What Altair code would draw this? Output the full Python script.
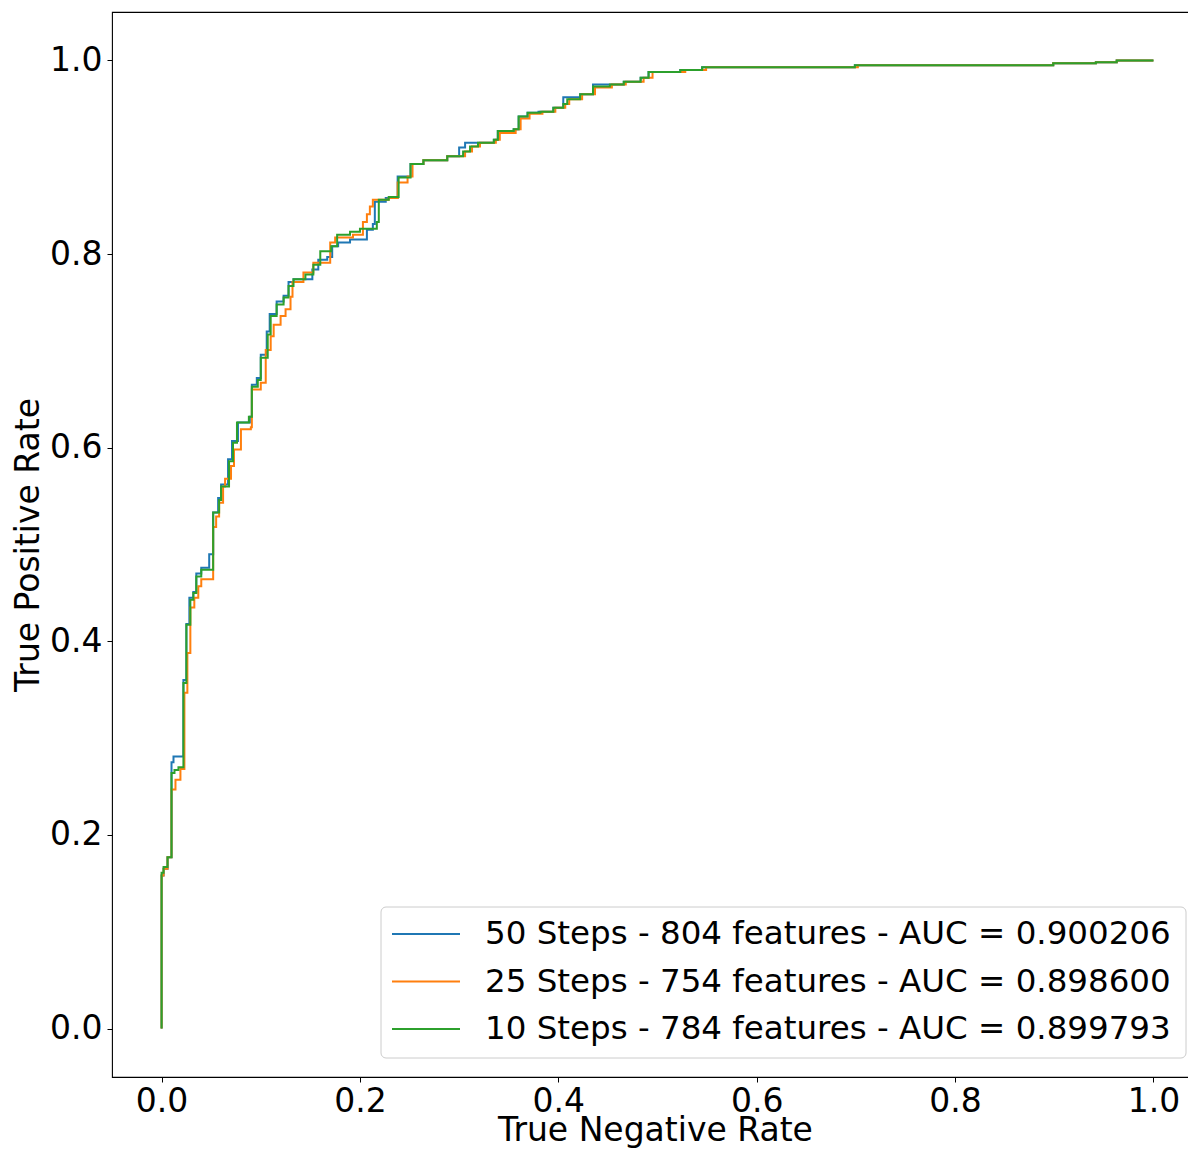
import altair as alt
import pandas as pd

labels = [
    "50 Steps - 804 features - AUC = 0.900206",
    "25 Steps - 754 features - AUC = 0.898600",
    "10 Steps - 784 features - AUC = 0.899793",
]
colors = ["#1f77b4", "#ff7f0e", "#2ca02c"]

blue_x = [0, 0, 0.002, 0.006, 0.010, 0.012, 0.022, 0.025, 0.028, 0.032, 0.035, 0.040, 0.048, 0.052, 0.057,
          0.060, 0.067, 0.071, 0.077, 0.089, 0.091, 0.096, 0.100, 0.106, 0.109, 0.116, 0.123, 0.128, 0.133,
          0.152, 0.158, 0.167, 0.172, 0.178, 0.190, 0.207, 0.213, 0.215, 0.226, 0.238, 0.251, 0.264, 0.288,
          0.300, 0.306, 0.319, 0.335, 0.339, 0.355, 0.360, 0.369, 0.380, 0.395, 0.405, 0.407, 0.422, 0.435,
          0.452, 0.466, 0.483, 0.491, 0.523, 0.545, 0.699, 0.899, 0.942, 0.963, 1.0]
blue_y = [0, 0.158, 0.165, 0.177, 0.275, 0.281, 0.360, 0.418, 0.445, 0.451, 0.470, 0.476, 0.490, 0.533, 0.548,
          0.562, 0.588, 0.607, 0.626, 0.632, 0.665, 0.672, 0.696, 0.720, 0.738, 0.751, 0.757, 0.771, 0.774,
          0.784, 0.794, 0.797, 0.808, 0.812, 0.815, 0.825, 0.831, 0.854, 0.858, 0.880, 0.893, 0.897, 0.901,
          0.910, 0.915, 0.915, 0.918, 0.927, 0.929, 0.942, 0.946, 0.947, 0.951, 0.962, 0.962, 0.965, 0.975,
          0.975, 0.978, 0.982, 0.988, 0.990, 0.993, 0.995, 0.997, 0.998, 1.0, 1.0]

orange_x = [0, 0, 0.002, 0.006, 0.010, 0.014, 0.019, 0.023, 0.026, 0.029, 0.033, 0.037, 0.040, 0.052, 0.055,
            0.058, 0.062, 0.064, 0.070, 0.073, 0.080, 0.090, 0.091, 0.100, 0.105, 0.110, 0.113, 0.120, 0.125,
            0.130, 0.132, 0.143, 0.153, 0.170, 0.175, 0.193, 0.203, 0.207, 0.210, 0.213, 0.229, 0.238, 0.248,
            0.253, 0.264, 0.288, 0.306, 0.313, 0.321, 0.337, 0.341, 0.357, 0.362, 0.371, 0.384, 0.397, 0.407,
            0.411, 0.424, 0.437, 0.454, 0.468, 0.486, 0.495, 0.528, 0.549, 0.702, 0.899, 0.942, 0.963, 1.0]
orange_y = [0, 0.158, 0.165, 0.177, 0.247, 0.257, 0.268, 0.347, 0.388, 0.435, 0.445, 0.457, 0.464, 0.518, 0.529,
            0.543, 0.560, 0.568, 0.581, 0.598, 0.619, 0.621, 0.660, 0.667, 0.701, 0.715, 0.727, 0.736, 0.743,
            0.756, 0.771, 0.781, 0.791, 0.812, 0.817, 0.820, 0.833, 0.841, 0.849, 0.856, 0.858, 0.874, 0.880,
            0.893, 0.897, 0.901, 0.906, 0.911, 0.915, 0.918, 0.925, 0.929, 0.940, 0.945, 0.947, 0.951, 0.955,
            0.960, 0.965, 0.972, 0.975, 0.978, 0.982, 0.988, 0.990, 0.993, 0.995, 0.997, 0.998, 1.0, 1.0]

green_x = [0, 0, 0.002, 0.006, 0.010, 0.013, 0.017, 0.022, 0.025, 0.029, 0.032, 0.035, 0.040, 0.052, 0.058,
           0.060, 0.068, 0.072, 0.076, 0.088, 0.091, 0.097, 0.100, 0.107, 0.110, 0.116, 0.123, 0.128, 0.133,
           0.145, 0.153, 0.160, 0.171, 0.177, 0.190, 0.200, 0.217, 0.219, 0.229, 0.239, 0.251, 0.264, 0.288,
           0.304, 0.311, 0.319, 0.335, 0.339, 0.355, 0.360, 0.369, 0.382, 0.395, 0.405, 0.409, 0.422, 0.435,
           0.452, 0.466, 0.483, 0.491, 0.523, 0.545, 0.699, 0.899, 0.942, 0.963, 1.0]
green_y = [0, 0.161, 0.167, 0.177, 0.264, 0.267, 0.270, 0.357, 0.417, 0.443, 0.450, 0.467, 0.474, 0.533, 0.546,
           0.560, 0.586, 0.605, 0.626, 0.632, 0.663, 0.670, 0.693, 0.717, 0.736, 0.748, 0.755, 0.767, 0.774,
           0.779, 0.789, 0.803, 0.808, 0.820, 0.823, 0.826, 0.833, 0.856, 0.859, 0.879, 0.893, 0.897, 0.901,
           0.906, 0.911, 0.915, 0.918, 0.927, 0.929, 0.942, 0.946, 0.947, 0.951, 0.955, 0.960, 0.965, 0.973,
           0.975, 0.978, 0.982, 0.988, 0.990, 0.993, 0.995, 0.997, 0.998, 1.0, 1.0]

x_ticks = [0.0, 0.2, 0.4, 0.6, 0.8, 1.0]
y_ticks = [0.0, 0.2, 0.4, 0.6, 0.8, 1.0]

FONT = "DejaVu Sans"
FS = 33
LEG_FS = 32.5
W, H = 1091, 1065

series = [(labels[0], blue_x, blue_y), (labels[1], orange_x, orange_y), (labels[2], green_x, green_y)]
rows = []
for lab, xs, ys in series:
    for i, (xv, yv) in enumerate(zip(xs, ys)):
        rows.append({"series": lab, "idx": i, "x": xv, "y": yv})
df = pd.DataFrame(rows)

color_scale = alt.Scale(domain=labels, range=colors)
xscale = alt.Scale(domain=[-0.05, 1.05], nice=False, zero=False)
yscale = alt.Scale(domain=[-0.05, 1.05], nice=False, zero=False)

xaxis = alt.Axis(values=x_ticks, format=".1f", title="True Negative Rate", labelPadding=3,
                 titleX=543, titleY=63, titleBaseline="alphabetic")
yaxis = alt.Axis(values=y_ticks, format=".1f", title="True Positive Rate", labelPadding=5,
                 titleX=-74, titleY=H / 2, titleAngle=270, titleBaseline="alphabetic")

layers = []
for lab in labels:
    layers.append(
        alt.Chart(df).transform_filter(alt.datum.series == lab)
        .mark_line(interpolate="step-after", strokeWidth=2, clip=True)
        .encode(
            x=alt.X("x:Q", scale=xscale, axis=xaxis),
            y=alt.Y("y:Q", scale=yscale, axis=yaxis),
            color=alt.Color("series:N", scale=color_scale, legend=None),
            order=alt.Order("idx:Q"),
        )
    )

# manual legend (matplotlib style, lower right)
box_df = pd.DataFrame({"k": [0]})
box = alt.Chart(box_df).mark_rect(
    fill="white", fillOpacity=0.8, stroke="#cccccc", strokeWidth=1, cornerRadius=5
).encode(x=alt.value(269), x2=alt.value(1074), y=alt.value(895), y2=alt.value(1046))

leg_df = pd.DataFrame({"series": labels, "row": [0, 1, 2]})
leg_base = alt.Chart(leg_df).transform_calculate(py="922 + datum.row * 47.5")
leg_lines = leg_base.mark_rule(strokeWidth=2).encode(
    x=alt.value(280), x2=alt.value(348),
    y=alt.Y("py:Q", scale=None),
    color=alt.Color("series:N", scale=color_scale, legend=None),
)
leg_text = leg_base.mark_text(align="left", baseline="middle", fontSize=LEG_FS, font=FONT, color="black").encode(
    x=alt.value(373), y=alt.Y("py:Q", scale=None), text="series:N"
)

chart = alt.layer(*layers, box, leg_lines, leg_text).properties(
    width=W, height=H,
    autosize=alt.AutoSizeParams(type="none"),
    padding={"left": 104, "top": 4, "right": -15, "bottom": 71},
    background="white",
).configure_axis(
    grid=False, domain=False, tickColor="black", tickSize=5, tickWidth=1,
    labelColor="black", labelFont=FONT, labelFontSize=FS,
    titleColor="black", titleFont=FONT, titleFontSize=FS, titleFontWeight="normal",
    labelFlush=False,
).configure_view(stroke="black", strokeWidth=1.1)

chart.save("out.html", embed_options={"renderer": "svg", "actions": False})
